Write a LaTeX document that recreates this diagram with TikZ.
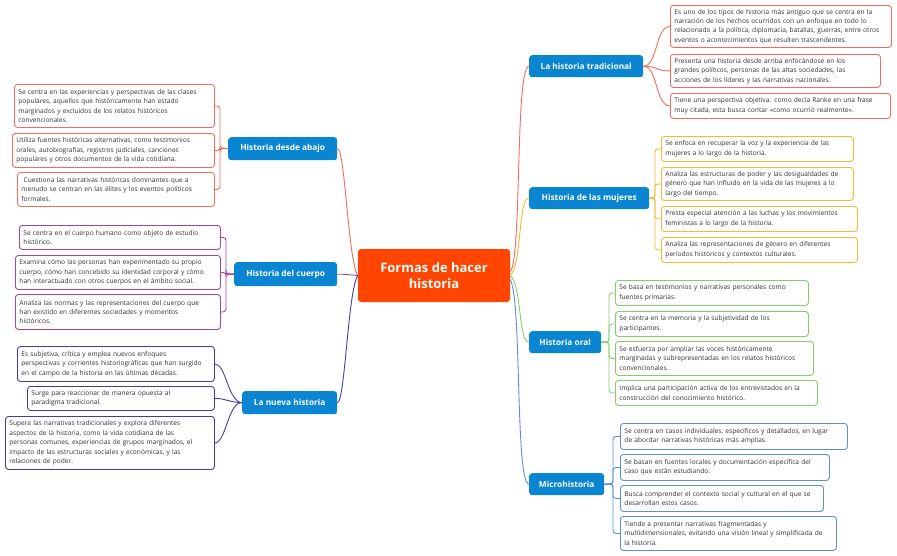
\documentclass[tikz,border=0pt]{standalone}
\usepackage{fontspec}
\setmainfont{Open Sans}
\definecolor{cR}{HTML}{F26B5B}
\definecolor{cY}{HTML}{F5B82E}
\definecolor{cG}{HTML}{86CC6A}
\definecolor{cB}{HTML}{5B8FD8}
\definecolor{cP}{HTML}{A0469C}
\definecolor{cI}{HTML}{4A3A9E}
\definecolor{br}{HTML}{0A85D1}
\definecolor{ctr}{HTML}{FF4500}
\definecolor{txt}{HTML}{333333}
\tikzset{
 leaf/.style={draw=#1, line width=0.9pt, rounded corners=3pt, fill=white, anchor=north west, inner xsep=4pt, inner ysep=2pt, align=left, text=txt, font=\fontsize{6.6}{9.4}\selectfont},
 bran/.style={fill=br, rounded corners=3pt, text=white, font=\bfseries\fontsize{8.3}{10}\selectfont, anchor=north west, inner sep=0pt, align=center},
 con/.style={draw=#1, line width=0.9pt},
 elb/.style={draw=#1, line width=0.9pt, rounded corners=3pt},
}
\newcommand{\lf}[8]{\node[leaf=#1, minimum width=#4pt, minimum height=#5pt, text width=#6pt] (#7) at (#2,#3) {#8};}
\begin{document}
\begin{tikzpicture}[x=1pt,y=-1pt]
\useasboundingbox (0,0) rectangle (897,555);
% center
\node[fill=ctr, rounded corners=3pt, text=white, font=\bfseries\fontsize{13}{16}\selectfont, align=center, minimum width=152pt, minimum height=53pt, inner sep=0pt] (c) at (434,275.5) {Formas de hacer\\historia};
% branches
\node[bran, minimum width=114pt, minimum height=22pt] (b1) at (529,55) {La historia tradicional};
\node[bran, minimum width=120pt, minimum height=22pt] (b2) at (529,187) {Historia de las mujeres};
\node[bran, minimum width=72pt, minimum height=22pt] (b3) at (529,331) {Historia oral};
\node[bran, minimum width=75pt, minimum height=22pt] (b4) at (529,473) {Microhistoria};
\node[bran, minimum width=109pt, minimum height=23pt] (b5) at (228,137) {Historia desde abajo};
\node[bran, minimum width=103pt, minimum height=24pt] (b6) at (234,262) {Historia del cuerpo};
\node[bran, minimum width=95pt, minimum height=23pt] (b7) at (242,391) {La nueva historia};
% center connectors
\draw[con=cR] (c.east) ++(0,-4) coordinate (s1) .. controls (522,260) and (515,66) .. (b1.west);
\draw[con=cY] (c.east) .. controls (522,265) and (518,198) .. (b2.west);
\draw[con=cG] (c.east) .. controls (522,285) and (518,342) .. (b3.west);
\draw[con=cB] (c.east) ++(0,4) coordinate (s4) .. controls (522,300) and (515,484) .. (b4.west);
\draw[con=cR] (c.west) .. controls (348,260) and (345,148) .. (b5.east);
\draw[con=cP] (c.west) .. controls (350,275) and (345,274) .. (b6.east);
\draw[con=cI] (c.west) .. controls (348,290) and (345,402) .. (b7.east);
% tradicional
\lf{cR}{670}{5}{221}{42}{213}{t1}{Es uno de los tipos de historia más antiguo que se centra en la\\narración de los hechos ocurridos con un enfoque en todo lo\\relacionado a la política, diplomacia, batallas, guerras, entre otros\\eventos o acontecimientos que resulten trascendentes.}
\lf{cR}{670}{54}{210}{33}{202}{t2}{Presenta una historia desde arriba enfocándose en los\\grandes políticos, personas de las altas sociedades, las\\acciones de los líderes y las narrativas nacionales.}
\lf{cR}{670}{93}{220}{25}{212}{t3}{Tiene una perspectiva objetiva. como decía Ranke en una frase\\muy citada, esta busca contar «como ocurrió realmente».}
\foreach \t in {t1,t2,t3} \draw[con=cR] (b1.east) .. controls (658,66) and (655,0|-\t.west) .. (\t.west);
% mujeres
\lf{cY}{661}{136}{192}{25}{184}{m1}{Se enfoca en recuperar la voz y la experiencia de las\\mujeres a lo largo de la historia.}
\lf{cY}{661}{167}{192}{33}{184}{m2}{Analiza las estructuras de poder y las desigualdades de\\género que han influido en la vida de las mujeres a lo\\largo del tiempo.}
\lf{cY}{661}{206}{196}{25}{188}{m3}{Presta especial atención a las luchas y los movimientos\\feministas a lo largo de la historia.}
\lf{cY}{661}{237}{196}{25}{188}{m4}{Analiza las representaciones de género en diferentes\\períodos históricos y contextos culturales.}
\foreach \t in {m1,m2,m3,m4} \draw[elb=cY] (b2.east) -- (655,198) |- (\t.west);
% oral
\lf{cG}{615}{280}{193}{25}{185}{o1}{Se basa en testimonios y narrativas personales como\\fuentes primarias.}
\lf{cG}{615}{311}{193}{25}{185}{o2}{Se centra en la memoria y la subjetividad de los\\participantes.}
\lf{cG}{615}{341}{198}{34}{190}{o3}{Se esfuerza por ampliar las voces históricamente\\marginadas y subrepresentadas en los relatos históricos\\convencionales.}
\lf{cG}{615}{380}{202}{25}{194}{o4}{Implica una participación activa de los entrevistados en la\\construcción del conocimiento histórico.}
\foreach \t in {o1,o2,o3,o4} \draw[elb=cG] (b3.east) -- (609,342) |- (\t.west);
% micro
\lf{cB}{620}{423}{227}{26}{219}{u1}{Se centra en casos individuales, específicos y detallados, en lugar\\de abordar narrativas históricas más amplias.}
\lf{cB}{620}{454}{209}{26}{201}{u2}{Se basan en fuentes locales y documentación específica del\\caso que están estudiando.}
\lf{cB}{620}{485}{203}{26}{195}{u3}{Busca comprender el contexto social y cultural en el que se\\desarrollan estos casos.}
\lf{cB}{620}{516}{216}{34}{208}{u4}{Tiende a presentar narrativas fragmentadas y\\multidimensionales, evitando una visión lineal y simplificada de\\la historia.}
\foreach \t in {u1,u2,u3,u4} \draw[elb=cB] (b4.east) -- (613,484) |- (\t.west);
% desde abajo
\lf{cR}{14}{84}{200}{43}{192}{a1}{Se centra en las experiencias y perspectivas de las clases\\populares, aquellos que históricamente han estado\\marginados y excluidos de los relatos históricos\\convencionales.}
\lf{cR}{12}{133}{202}{34}{194}{a2}{Utiliza fuentes históricas alternativas, como testimonios\\orales, autobiografías, registros judiciales, canciones\\populares y otros documentos de la vida cotidiana.}
\lf{cR}{17}{172}{197}{34}{189}{a3}{\ Cuestiona las narrativas históricas dominantes que a\\menudo se centran en las élites y los eventos políticos\\formales.}
\foreach \t in {a1,a2,a3} \draw[elb=cR] (b5.west) -- (220,148) |- (\t.east);
% cuerpo
\lf{cP}{19}{225}{201}{24}{193}{k1}{Se centra en el cuerpo humano como objeto de estudio\\histórico.}
\lf{cP}{15}{255}{205}{34}{197}{k2}{Examina cómo las personas han experimentado su propio\\cuerpo, cómo han concebido su identidad corporal y cómo\\han interactuado con otros cuerpos en el ámbito social.}
\lf{cP}{15}{294}{205}{35}{197}{k3}{Analiza las normas y las representaciones del cuerpo que\\han existido en diferentes sociedades y momentos\\históricos.}
\foreach \t in {k1,k2,k3} \draw[elb=cP] (b6.west) -- (226,274) |- (\t.east);
% nueva
\lf{cI}{17}{346}{197}{35}{189}{n1}{Es subjetiva, crítica y emplea nuevos enfoques\\perspectivas y corrientes historiográficas que han surgido\\en el campo de la historia en las últimas décadas.}
\lf{cI}{27}{386}{187}{24}{179}{n2}{Surge para reaccionar de manera opuesta al\\paradigma tradicional.}
\lf{cI}{5}{416}{209}{53}{201}{n3}{Supera las narrativas tradicionales y explora diferentes\\aspectos de la historia, como la vida cotidiana de las\\personas comunes, experiencias de grupos marginados, el\\impacto de las estructuras sociales y económicas, y las\\relaciones de poder.}
\foreach \t in {n1,n2,n3} \draw[con=cI] (b7.west) .. controls (228,402) and (226,0|-\t.east) .. (\t.east);
\end{tikzpicture}
\end{document}
